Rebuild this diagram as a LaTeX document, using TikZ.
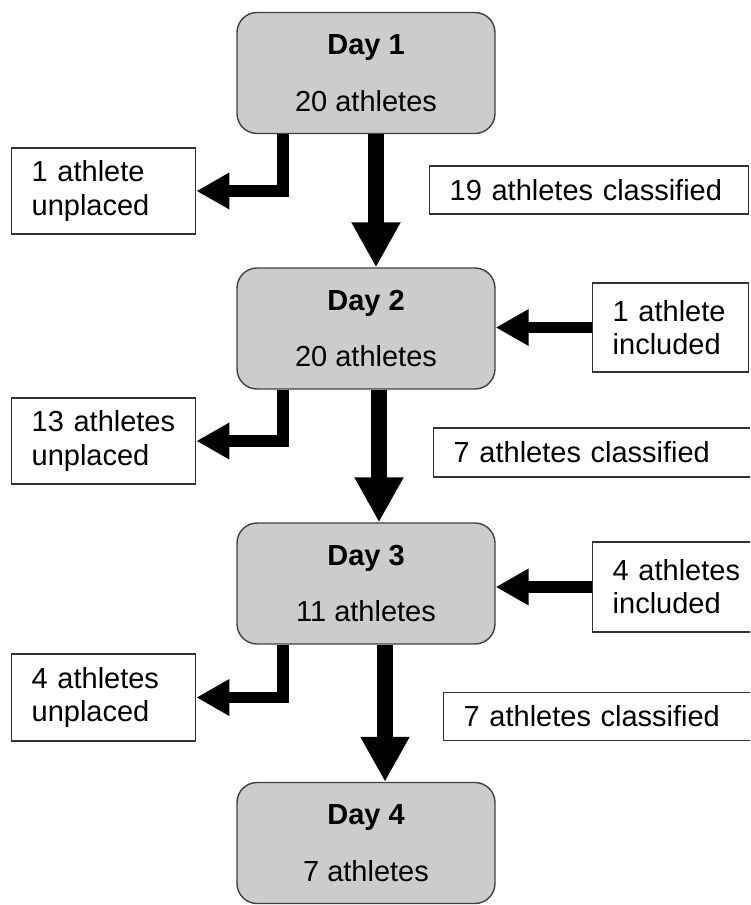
\documentclass[tikz,border=0pt]{standalone}
\usepackage{fontspec}
\setmainfont{Liberation Sans}
\usetikzlibrary{arrows.meta,positioning,calc}
\begin{document}
\begin{tikzpicture}[x=0.02cm,y=-0.02cm,font=\fontsize{16.5}{18.8}\selectfont,
 day/.style={draw=black!75,fill=gray!40,line width=0.8pt,rounded corners=0.4cm,minimum width=5.16cm,minimum height=2.42cm,align=center},
 note/.style={draw=black!80,fill=white,line width=0.8pt,align=left,anchor=west,inner xsep=0.4cm,inner ysep=0pt},
 mainarr/.style={line width=0.33cm,-{Triangle[length=0.9cm,width=0.92cm]}},
 sidearr/.style={line width=0.23cm,-{Triangle[length=0.66cm,width=0.69cm]}}]
\clip (0,0) rectangle (750,905);
\node[day] (d1) at (366,73) {\textbf{Day 1}\\[13.6pt]20 athletes};
\node[day] (d2) at (366,328.5) {\textbf{Day 2}\\[13.6pt]20 athletes};
\node[day] (d3) at (366,583.5) {\textbf{Day 3}\\[13.6pt]11 athletes};
\node[day] (d4) at (366,843) {\textbf{Day 4}\\[13.6pt]7 athletes};
\node[note,text width=2.88cm,minimum height=1.72cm] (u1) at (11,191) {1 athlete\\unplaced};
\node[note,text width=2.88cm,minimum height=1.72cm] (u2) at (11,441) {13 athletes\\unplaced};
\node[note,text width=2.88cm,minimum height=1.74cm] (u3) at (11,697.5) {4 athletes\\unplaced};
\node[note,text width=5.58cm,minimum height=0.96cm] (c1) at (429,190) {19 athletes classified};
\node[note,text width=5.74cm,minimum height=0.98cm] (c2) at (433,452.5) {7 athletes classified};
\node[note,text width=5.54cm,minimum height=0.96cm] (c3) at (443,716.5) {7 athletes classified};
\node[note,text width=2.32cm,minimum height=1.78cm] (i2) at (592,327.5) {1 athlete\\included};
\node[note,text width=2.7cm,minimum height=1.8cm] (i3) at (592,587) {4 athletes\\included};
\draw[mainarr] ([xshift=0.2cm]d1.south) -- ([xshift=0.2cm]d2.north);
\draw[mainarr] ([xshift=0.26cm]d2.south) -- ([xshift=0.26cm]d3.north);
\draw[mainarr] ([xshift=0.38cm]d3.south) -- ([xshift=0.38cm]d4.north);
\draw[sidearr] ([xshift=-1.66cm]d1.south) |- (u1.east);
\draw[sidearr] ([xshift=-1.66cm]d2.south) |- (u2.east);
\draw[sidearr] ([xshift=-1.66cm]d3.south) |- (u3.east);
\draw[sidearr] (i2.west) -- (d2.east |- i2.west);
\draw[sidearr] (i3.west) -- (d3.east |- i3.west);
\end{tikzpicture}
\end{document}
